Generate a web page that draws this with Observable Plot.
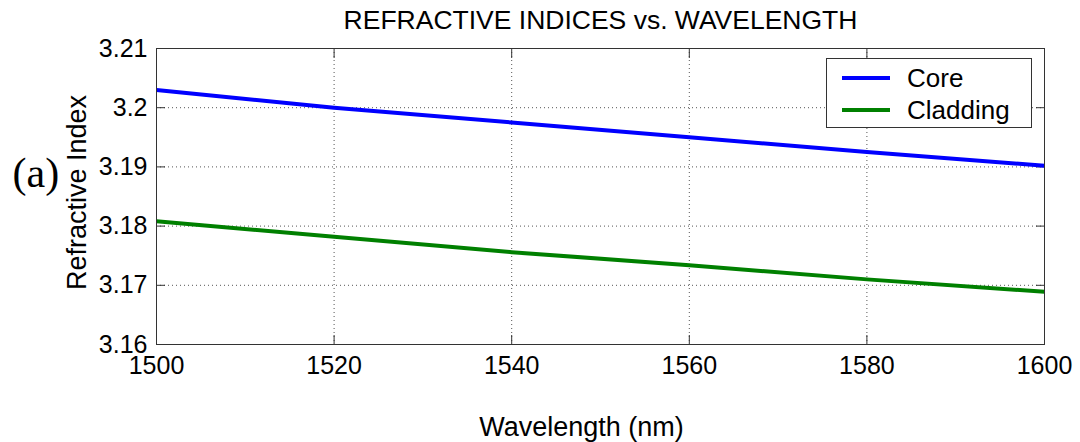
<!DOCTYPE html>
<html>
<head>
<meta charset="utf-8">
<script src="https://cdn.jsdelivr.net/npm/d3@7"></script>
<script src="https://cdn.jsdelivr.net/npm/@observablehq/plot@0.6"></script>
<style>
  body { margin: 0; background: #fff; }
  #wrap { position: relative; width: 1080px; height: 442px; background: #fff; }
  #legend { position: absolute; left: 826px; top: 58px; width: 206px; height: 70px; box-sizing: border-box;
            border: 1px solid #333; background: #fff; font-family: "Liberation Sans", Arial, sans-serif; font-size: 26px; color: #000; }
  .lrow { position: absolute; left: 0; width: 100%; height: 30px; }
  .lsw { position: absolute; left: 15px; top: 13px; width: 48px; height: 4px; }
  .ltx { position: absolute; left: 80px; top: 0; line-height: 30px; white-space: nowrap; }
</style>
</head>
<body>
<div id="wrap"></div>
<script>
// ---- data ----
const wavelength = [1500, 1520, 1540, 1560, 1580, 1600];
const coreIndex = [3.2030, 3.2000, 3.1975, 3.1950, 3.1925, 3.1902];
const claddingIndex = [3.1808, 3.1782, 3.1756, 3.1734, 3.1710, 3.1689];
const seriesNames = ["Core", "Cladding"];
const seriesColors = ["#0000ff", "#008000"];
const xTicks = [1500, 1520, 1540, 1560, 1580, 1600];
const xTickLabels = ["1500", "1520", "1540", "1560", "1580", "1600"];
const yTicks = [3.16, 3.17, 3.18, 3.19, 3.20, 3.21];
const yTickLabels = ["3.16", "3.17", "3.18", "3.19", "3.2", "3.21"];
const titleText = "REFRACTIVE INDICES vs. WAVELENGTH";
const xLabel = "Wavelength (nm)";
const yLabel = "Refractive Index";
const panelLabel = "(a)";

// ---- table ----
const rows = [];
wavelength.forEach((w, i) => {
  rows.push({ w, n: coreIndex[i], s: seriesNames[0] });
  rows.push({ w, n: claddingIndex[i], s: seriesNames[1] });
});

const font = '"Liberation Sans", Arial, Helvetica, sans-serif';
const lookup = (ticks, labels) => d => labels[ticks.findIndex(t => Math.abs(t - d) < 1e-9)];
const frameStroke = "#333";
const gridStyle = { stroke: "#555", strokeOpacity: 1, strokeWidth: 1, strokeDasharray: "1,3" };

const chart = Plot.plot({
  width: 1080,
  height: 442,
  marginLeft: 156,
  marginRight: 36,
  marginTop: 48,
  marginBottom: 98,
  style: { fontFamily: font, background: "#fff", color: "#000", overflow: "visible" },
  x: { domain: [1500, 1600] },
  y: { domain: [3.16, 3.21] },
  color: { domain: seriesNames, range: seriesColors },
  marks: [
    Plot.gridX(xTicks.slice(1, -1), gridStyle),
    Plot.gridY(yTicks.slice(1, -1), gridStyle),
    // inward ticks on all four sides
    Plot.axisX(xTicks, { anchor: "bottom", tickSize: 9, dy: -9, fill: "none", label: null, stroke: frameStroke }),
    Plot.axisX(xTicks, { anchor: "top", tickSize: 9, dy: 9, fill: "none", label: null, stroke: frameStroke }),
    Plot.axisY(yTicks, { anchor: "left", tickSize: 9, dx: 9, fill: "none", label: null, stroke: frameStroke }),
    Plot.axisY(yTicks, { anchor: "right", tickSize: 9, dx: -9, fill: "none", label: null, stroke: frameStroke }),
    // tick labels
    Plot.axisX(xTicks, { anchor: "bottom", tickSize: 0, tickPadding: 12, fontSize: 25, label: null, tickFormat: lookup(xTicks, xTickLabels) }),
    Plot.axisY(yTicks, { anchor: "left", tickSize: 0, tickPadding: 9, fontSize: 25, label: null, tickFormat: lookup(yTicks, yTickLabels) }),
    Plot.line(rows, { x: "w", y: "n", z: "s", stroke: "s", strokeWidth: 4, strokeLinecap: "butt" }),
    Plot.frame({ stroke: frameStroke, strokeWidth: 1 }),
    Plot.text([titleText], { text: d => d, frameAnchor: "top", textAnchor: "middle", lineAnchor: "bottom", dy: -20, fontSize: 26.5 }),
    Plot.text([xLabel], { text: d => d, frameAnchor: "bottom", textAnchor: "middle", lineAnchor: "bottom", dx: -19, dy: 91, fontSize: 27 }),
    Plot.text([yLabel], { text: d => d, frameAnchor: "left", textAnchor: "middle", lineAnchor: "bottom", rotate: -90, dx: -71, dy: -4, fontSize: 27 }),
    Plot.text([panelLabel], { text: d => d, frameAnchor: "left", textAnchor: "start", lineAnchor: "bottom", dx: -144, dy: -10, fontSize: 42, fontFamily: '"Liberation Serif", "Times New Roman", serif' })
  ]
});

const wrap = document.getElementById("wrap");
wrap.appendChild(chart);

// legend (HTML overlay in the top-right of the axes)
const legend = document.createElement("div");
legend.id = "legend";
const rowTops = [4, 36];
seriesNames.forEach((name, i) => {
  const r = document.createElement("div");
  r.className = "lrow";
  r.style.top = rowTops[i] + "px";
  const sw = document.createElement("div");
  sw.className = "lsw";
  sw.style.background = seriesColors[i];
  const tx = document.createElement("div");
  tx.className = "ltx";
  tx.textContent = name;
  r.appendChild(sw);
  r.appendChild(tx);
  legend.appendChild(r);
});
wrap.appendChild(legend);
</script>
</body>
</html>
